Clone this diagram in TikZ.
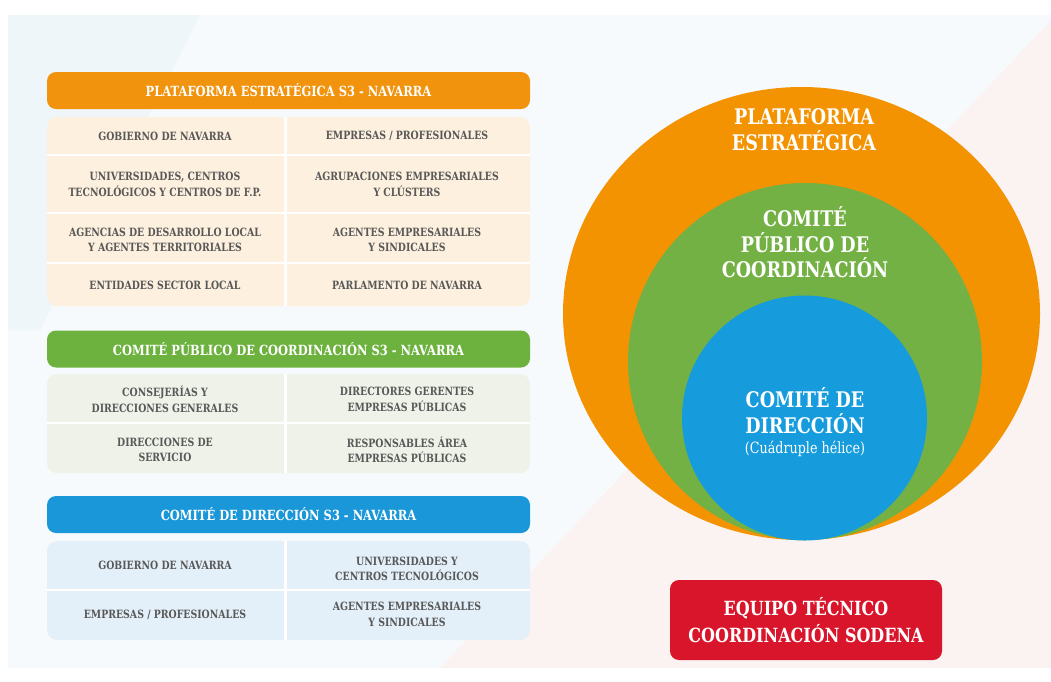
\documentclass[tikz,border=0pt]{standalone}
\usepackage{fontspec}
\setmainfont{DejaVu Serif}[FakeStretch=0.82]
\usetikzlibrary{shapes.geometric}
\definecolor{orng}{HTML}{F1930C}
\definecolor{grn}{HTML}{6DB23F}
\definecolor{blu}{HTML}{1A97D8}
\definecolor{redbox}{HTML}{D9152B}
\definecolor{corng}{HTML}{F39301}
\definecolor{cgrn}{HTML}{74B144}
\definecolor{cblu}{HTML}{169CDD}
\definecolor{tabo}{HTML}{FDF0DE}
\definecolor{tabg}{HTML}{EEF2E8}
\definecolor{tabb}{HTML}{E4F0F9}
\definecolor{txt}{HTML}{585858}
\definecolor{bgmid}{HTML}{F7FAFC}
\definecolor{bgblue}{HTML}{EFF6FA}
\definecolor{bgpink}{HTML}{FBF3F2}
\begin{document}
\begin{tikzpicture}[x=1pt,y=-1pt,
  hdr/.style={rounded corners=9pt, minimum height=37pt, minimum width=483pt, text=white, inner sep=0pt,
    font=\bfseries\fontsize{14}{16}\selectfont},
  cell/.style={text=txt, font=\bfseries\fontsize{11.4}{15.5}\selectfont, align=center, inner sep=0pt},
  tabbody/.style={rounded corners=10pt},
  divv/.style={white, line width=3pt},
  divh/.style={white, line width=2pt},
  ring/.style={ellipse, inner sep=0pt},
  bigtxt/.style={text=white, align=center, font=\bfseries\fontsize{21.5}{25.5}\selectfont},
]
\useasboundingbox (0,0) rectangle (1051,681);
% background
\fill[white] (0,0) rectangle (1051,681);
\fill[bgmid] (8,15) rectangle (1051,668);
\fill[bgblue] (8,15) -- (200,15) -- (40,330) -- (8,330) -- cycle;
\fill[bgpink] (1051,20) -- (1051,668) -- (440,668) -- cycle;

% ---- Plataforma table ----
\node[hdr, fill=orng] (h1) at (288.5,90.5) {PLATAFORMA ESTRATÉGICA S3 - NAVARRA};
\fill[tabo, tabbody] (47,117) rectangle (530,306);
\draw[divv] (285,117) -- (285,306);
\draw[divh] (47,155) -- (530,155);
\draw[divh] (47,213) -- (530,213);
\draw[divh] (47,263) -- (530,263);
\node[cell] (p11) at (165,136) {GOBIERNO DE NAVARRA};
\node[cell] (p12) at (407,136) {EMPRESAS / PROFESIONALES};
\node[cell] (p21) at (165,184.5) {UNIVERSIDADES, CENTROS\\TECNOLÓGICOS Y CENTROS DE F.P.};
\node[cell] (p22) at (407,184.5) {AGRUPACIONES EMPRESARIALES\\Y CLÚSTERS};
\node[cell] (p31) at (165,240) {AGENCIAS DE DESARROLLO LOCAL\\Y AGENTES TERRITORIALES};
\node[cell] (p32) at (407,240) {AGENTES EMPRESARIALES\\Y SINDICALES};
\node[cell] (p41) at (165,285) {ENTIDADES SECTOR LOCAL};
\node[cell] (p42) at (407,285) {PARLAMENTO DE NAVARRA};

% ---- Comite publico table ----
\node[hdr, fill=grn] (h2) at (288.5,349) {COMITÉ PÚBLICO DE COORDINACIÓN S3 - NAVARRA};
\fill[tabg, tabbody] (47,374) rectangle (530,473);
\draw[divv] (285,374) -- (285,473);
\draw[divh] (47,423) -- (530,423);
\node[cell] (c11) at (165,399.5) {CONSEJERÍAS Y\\DIRECCIONES GENERALES};
\node[cell] (c12) at (407,399.5) {DIRECTORES GERENTES\\EMPRESAS PÚBLICAS};
\node[cell] (c21) at (165,450) {DIRECCIONES DE\\SERVICIO};
\node[cell] (c22) at (407,450) {RESPONSABLES ÁREA\\EMPRESAS PÚBLICAS};

% ---- Comite direccion table ----
\node[hdr, fill=blu] (h3) at (288.5,514.5) {COMITÉ DE DIRECCIÓN S3 - NAVARRA};
\fill[tabb, tabbody] (47,541) rectangle (530,640);
\draw[divv] (285,541) -- (285,640);
\draw[divh] (47,590) -- (530,590);
\node[cell] (d11) at (165,565.5) {GOBIERNO DE NAVARRA};
\node[cell] (d12) at (407,569) {UNIVERSIDADES Y\\CENTROS TECNOLÓGICOS};
\node[cell] (d21) at (165,614.5) {EMPRESAS / PROFESIONALES};
\node[cell] (d22) at (407,614.5) {AGENTES EMPRESARIALES\\Y SINDICALES};

% ---- circles ----
\node[ring, fill=corng, minimum width=477pt, minimum height=453pt] (oring) at (801.5,313.5) {};
\node[ring, fill=cgrn, minimum width=354pt, minimum height=357pt] (gring) at (805,361.5) {};
\node[ring, fill=cblu, minimum width=245pt, minimum height=245pt] (bring) at (804.5,418) {};
\node[bigtxt] (tplat) at (804,129.5) {PLATAFORMA\\ESTRATÉGICA};
\node[bigtxt] (tcomp) at (805,242.5) {COMITÉ\\PÚBLICO DE\\COORDINACIÓN};
\node[bigtxt] (tdir) at (805,410.5) {COMITÉ DE\\DIRECCIÓN};
\node[text=white, font=\fontsize{15.5}{17}\selectfont, inner sep=1pt] (thel) at (805,448.5) {(Cuádruple hélice)};

% ---- red box ----
\node[fill=redbox, rounded corners=9pt, minimum width=272pt, minimum height=80pt, text=white, align=center,
  font=\bfseries\fontsize{19.5}{26.5}\selectfont, inner sep=0pt] (equipo) at (806,620) {EQUIPO TÉCNICO\\COORDINACIÓN SODENA};
\end{tikzpicture}
\end{document}
